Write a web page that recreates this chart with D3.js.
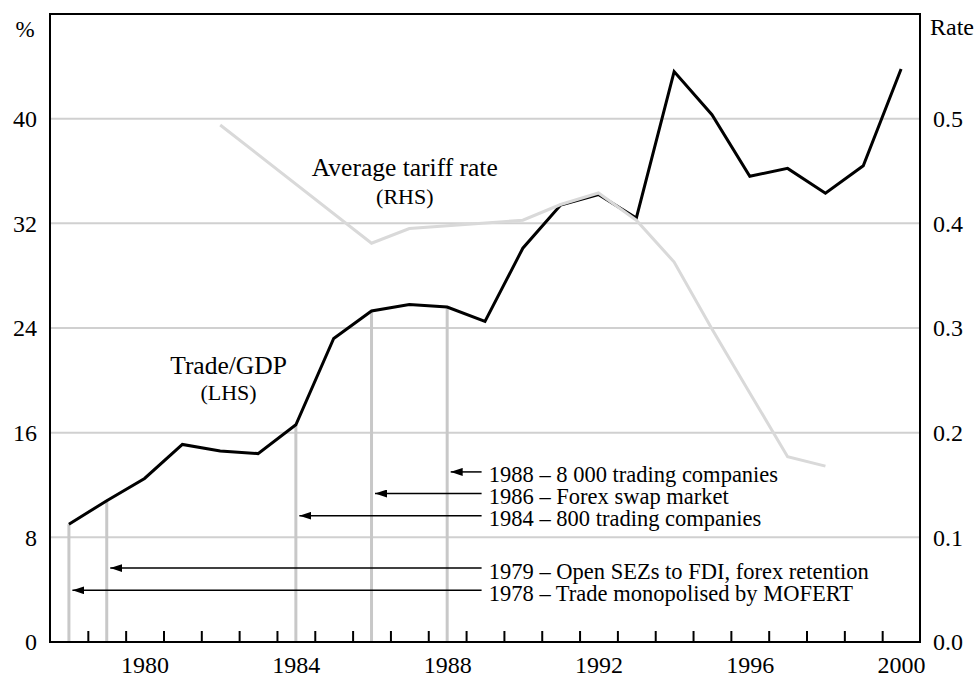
<!DOCTYPE html>
<html>
<head>
<meta charset="utf-8">
<script src="https://cdnjs.cloudflare.com/ajax/libs/d3/7.8.5/d3.min.js"></script>
<style>
  body { margin: 0; background: #fff; }
  svg { display: block; }
  svg text { font-family: "Liberation Serif", "Times New Roman", serif; }
</style>
</head>
<body>
<div id="chart"></div>
<script>
// Trade/GDP (LHS, %) by year
var years = [1978, 1979, 1980, 1981, 1982, 1983, 1984, 1985, 1986, 1987, 1988, 1989,
             1990, 1991, 1992, 1993, 1994, 1995, 1996, 1997, 1998, 1999, 2000];
var tradeGdp = [9.0, 10.8, 12.5, 15.1, 14.6, 14.4, 16.6, 23.2, 25.3, 25.8, 25.6, 24.5,
                30.1, 33.4, 34.2, 32.4, 43.6, 40.3, 35.6, 36.2, 34.3, 36.4, 43.8];

// Average tariff rate (RHS)
var tariffYears = [1982, 1986, 1987, 1990, 1991, 1992, 1993, 1994, 1995, 1996, 1997, 1998];
var tariffRate = [0.494, 0.381, 0.395, 0.403, 0.418, 0.429, 0.403, 0.363, 0.299, 0.238, 0.177, 0.168];

// reform events
var eventYears = [1988, 1986, 1984, 1979, 1978];
var eventLabels = ["1988 \u2013 8 000 trading companies",
                   "1986 \u2013 Forex swap market",
                   "1984 \u2013 800 trading companies",
                   "1979 \u2013 Open SEZs to FDI, forex retention",
                   "1978 \u2013 Trade monopolised by MOFERT"];

// tick labels
var xLabels = [1980, 1984, 1988, 1992, 1996, 2000];
var leftTicks = [0, 8, 16, 24, 32, 40];
var rightTicks = [0, 0.1, 0.2, 0.3, 0.4, 0.5];

var W = 978, H = 679;
var plotL = 50, plotR = 920, plotT = 14, plotB = 642;

var svg = d3.select("#chart").append("svg")
    .attr("width", W)
    .attr("height", H);

var x = d3.scaleLinear().domain([1977.5, 2000.5]).range([plotL, plotR]);
var yL = d3.scaleLinear().domain([0, 48]).range([plotB, plotT]);
var yR = d3.scaleLinear().domain([0, 0.6]).range([plotB, plotT]);

var gridColor = "#d0d0d0";

// horizontal grid
svg.append("g").selectAll("line")
    .data(leftTicks.slice(1))
  .enter().append("line")
    .attr("x1", plotL).attr("x2", plotR)
    .attr("y1", function(d) { return yL(d); })
    .attr("y2", function(d) { return yL(d); })
    .attr("stroke", gridColor)
    .attr("stroke-width", 2);

// vertical event lines, up to the trade/GDP value of that year
var events = eventYears.map(function(yr, i) {
  return { year: yr, label: eventLabels[i], value: tradeGdp[years.indexOf(yr)] };
});

svg.append("g").selectAll("line")
    .data(events)
  .enter().append("line")
    .attr("x1", function(d) { return x(d.year); })
    .attr("x2", function(d) { return x(d.year); })
    .attr("y1", yL(0))
    .attr("y2", function(d) { return yL(d.value); })
    .attr("stroke", "#c8c8c8")
    .attr("stroke-width", 3);

// trade/GDP line
var tradeLine = d3.line()
    .x(function(d, i) { return x(years[i]); })
    .y(function(d) { return yL(d); });

svg.append("path")
    .datum(tradeGdp)
    .attr("fill", "none")
    .attr("stroke", "#000")
    .attr("stroke-width", 3)
    .attr("d", tradeLine);

// tariff line
var tariffLine = d3.line()
    .x(function(d, i) { return x(tariffYears[i]); })
    .y(function(d) { return yR(d); });

svg.append("path")
    .datum(tariffRate)
    .attr("fill", "none")
    .attr("stroke", "#d9d9d9")
    .attr("stroke-width", 3)
    .attr("d", tariffLine);

// series labels
function seriesLabel(cx, cy, main, sub, gap) {
  var g = svg.append("g").attr("text-anchor", "middle");
  g.append("text").attr("x", cx).attr("y", cy)
      .style("font-size", "25.5px").text(main);
  g.append("text").attr("x", cx).attr("y", cy + gap)
      .style("font-size", "22px").text(sub);
}
seriesLabel(x(1982.22), yL(20.5), "Trade/GDP", "(LHS)", 26);
seriesLabel(x(1986.88), yR(0.445), "Average tariff rate", "(RHS)", 28);

// arrows
svg.append("defs").append("marker")
    .attr("id", "arrowhead")
    .attr("viewBox", "0 0 12 8")
    .attr("refX", 12).attr("refY", 4)
    .attr("markerWidth", 12).attr("markerHeight", 8)
    .attr("markerUnits", "userSpaceOnUse")
    .attr("orient", "auto")
  .append("path")
    .attr("d", "M0,0L12,4L0,8Z")
    .attr("fill", "#000");

var rowLevels = [13.0, 11.35, 9.65, 5.65, 3.95];
var tailYear = 1988.91, textYear = 1989.1;

var notes = svg.append("g").selectAll("g")
    .data(events)
  .enter().append("g");

notes.append("line")
    .attr("x1", x(tailYear))
    .attr("x2", function(d) { return x(d.year) + 3.5; })
    .attr("y1", function(d, i) { return yL(rowLevels[i]); })
    .attr("y2", function(d, i) { return yL(rowLevels[i]); })
    .attr("stroke", "#000")
    .attr("stroke-width", 1.5)
    .attr("marker-end", "url(#arrowhead)");

notes.append("text")
    .attr("x", x(textYear))
    .attr("y", function(d, i) { return yL(rowLevels[i]) + 10.5; })
    .style("font-size", "22.5px")
    .text(function(d) { return d.label; });

// frame
svg.append("rect")
    .attr("x", plotL).attr("y", plotT)
    .attr("width", plotR - plotL).attr("height", plotB - plotT)
    .attr("fill", "none")
    .attr("stroke", "#000")
    .attr("stroke-width", 2);

// x axis: inner ticks at year boundaries
var boundaries = years.slice(1).map(function(d) { return d - 0.5; });
var xTicks = svg.append("g")
    .attr("transform", "translate(0," + plotB + ")")
    .call(d3.axisBottom(x).tickValues(boundaries).tickSizeInner(-11).tickSizeOuter(0).tickFormat(""));
xTicks.select(".domain").remove();
xTicks.selectAll(".tick line").attr("stroke", "#000").attr("stroke-width", 2);

function styleLabels(g) {
  g.attr("font-family", null).attr("font-size", null);
  g.select(".domain").remove();
  g.selectAll("text")
      .style("font-size", "24px")
      .attr("fill", "#000");
}

var xLab = svg.append("g")
    .attr("transform", "translate(0," + plotB + ")")
    .call(d3.axisBottom(x).tickValues(xLabels).tickSize(0).tickFormat(d3.format("d")));
styleLabels(xLab);
xLab.selectAll("text").attr("y", 31).attr("dy", 0);

// left axis labels
var yLeft = svg.append("g")
    .attr("transform", "translate(" + plotL + ",0)")
    .call(d3.axisLeft(yL).tickValues(leftTicks).tickSize(0).tickPadding(13));
styleLabels(yLeft);

// right axis labels
var yRight = svg.append("g")
    .attr("transform", "translate(" + plotR + ",0)")
    .call(d3.axisRight(yR).tickValues(rightTicks).tickSize(0).tickPadding(13).tickFormat(d3.format(".1f")));
styleLabels(yRight);

// unit labels
svg.append("text")
    .attr("x", 25).attr("y", 37)
    .attr("text-anchor", "middle")
    .style("font-size", "23px")
    .text("%");

svg.append("text")
    .attr("x", 930).attr("y", 35)
    .style("font-size", "24px")
    .text("Rate");
</script>
</body>
</html>
